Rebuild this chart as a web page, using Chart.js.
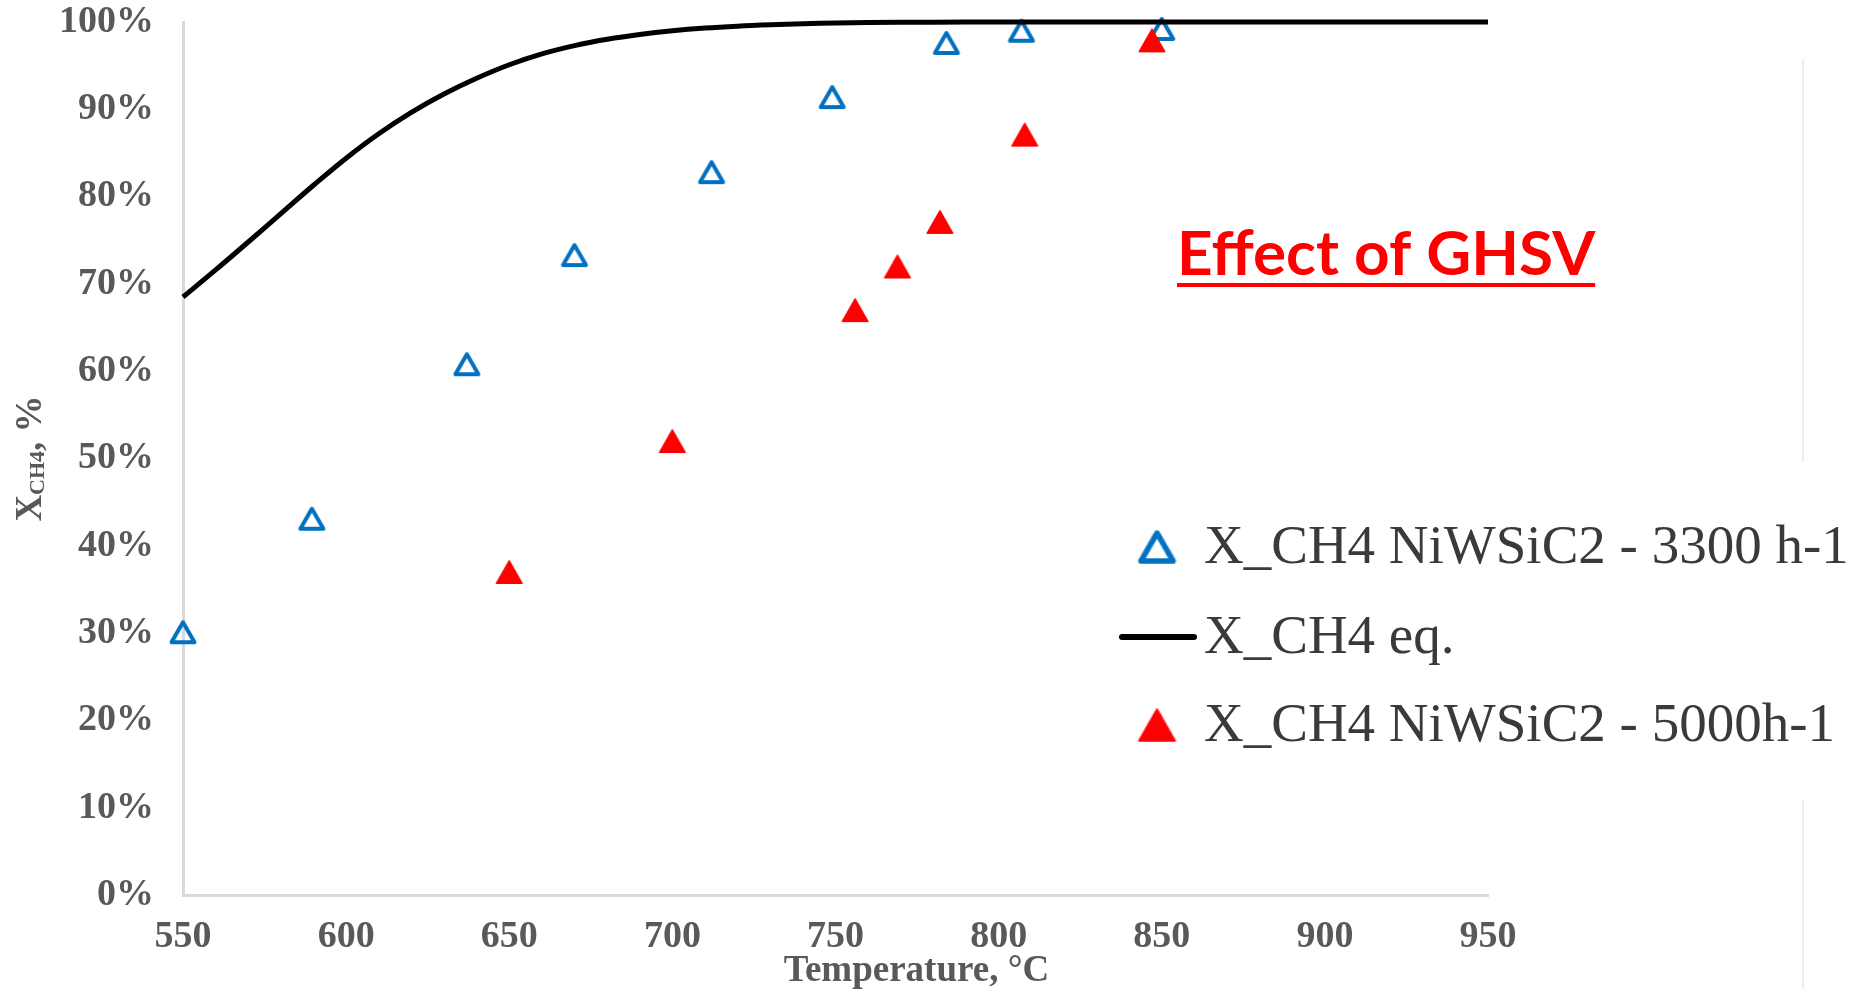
<!DOCTYPE html>
<html>
<head>
<meta charset="utf-8">
<script src="https://cdn.jsdelivr.net/npm/chart.js@4.4.1/dist/chart.umd.min.js"></script>
<style>
  html, body { margin: 0; padding: 0; background: #ffffff; }
  #wrap { position: relative; width: 1857px; height: 989px; }
</style>
</head>
<body>
<div id="wrap"><canvas id="chart" width="1857" height="989"></canvas></div>
<script>
// CH4 conversion over NiWSiC2, GHSV 3300 h-1
const temp3300 = [550, 589.5, 637, 670, 712, 749, 784, 807, 850];
const conv3300 = [30.1, 43.1, 60.8, 73.3, 82.8, 91.4, 97.6, 99.0, 99.2];

// CH4 conversion over NiWSiC2, GHSV 5000 h-1
const temp5000 = [650, 700, 756, 769, 782, 808, 847];
const conv5000 = [37.0, 52.0, 67.0, 72.0, 77.1, 87.1, 97.9];

// Equilibrium CH4 conversion
const tempEq = [550, 560, 570, 580, 590, 600, 610, 620, 630, 640, 650, 660, 670, 680, 690,
                700, 710, 720, 730, 740, 750, 760, 780, 800, 850, 900, 950];
const convEq = [68.5, 71.6, 74.8, 78.05, 81.3, 84.4, 87.2, 89.65, 91.75, 93.55, 95.1, 96.35, 97.3, 98.02, 98.57,
                98.99, 99.3, 99.52, 99.68, 99.8, 99.88, 99.93, 99.98, 100, 100, 100, 100];

// Series names
const seriesNames = ['X_CH4 NiWSiC2 - 3300 h-1', 'X_CH4 eq.', 'X_CH4 NiWSiC2 - 5000h-1'];

// Axis ticks
const xTickValues = [550, 600, 650, 700, 750, 800, 850, 900, 950];
const yTickValues = [0, 10, 20, 30, 40, 50, 60, 70, 80, 90, 100];

const BLUE = '#0070C0';
const RED = '#FF0000';
const TEXT_GRAY = '#595959';
const SERIF = '"Liberation Serif", "Times New Roman", serif';

// Triangle marker images (open blue, filled red), centred in their box
function openTriangle(color) {
  const c = document.createElement('canvas');
  c.width = 32; c.height = 32;
  const g = c.getContext('2d');
  g.strokeStyle = color;
  g.lineWidth = 4;
  g.lineJoin = 'round';
  g.beginPath();
  g.moveTo(16, 6);
  g.lineTo(27.5, 26);
  g.lineTo(4.5, 26);
  g.closePath();
  g.stroke();
  return c;
}
function filledTriangle(color) {
  const c = document.createElement('canvas');
  c.width = 32; c.height = 32;
  const g = c.getContext('2d');
  g.fillStyle = color;
  g.strokeStyle = color;
  g.lineWidth = 1.5;
  g.lineJoin = 'round';
  g.beginPath();
  g.moveTo(16, 4.8);
  g.lineTo(28.8, 27.3);
  g.lineTo(3.2, 27.3);
  g.closePath();
  g.fill();
  g.stroke();
  return c;
}
const markOpen = openTriangle(BLUE);
const markFilled = filledTriangle(RED);

const toPoints = (xs, ys) => xs.map((x, i) => ({ x: x, y: ys[i] }));

// Axis titles, legend and the caption drawn on top of the plot
const overlay = {
  id: 'overlay',
  afterDraw(chart) {
    const ctx = chart.ctx;
    const area = chart.chartArea;
    ctx.save();

    // faint frame edge on the right
    ctx.strokeStyle = '#ededed';
    ctx.lineWidth = 2;
    ctx.beginPath();
    ctx.moveTo(1803, 59); ctx.lineTo(1803, 462);
    ctx.moveTo(1803, 800); ctx.lineTo(1803, 989);
    ctx.stroke();

    // x axis title
    ctx.fillStyle = TEXT_GRAY;
    ctx.font = 'bold 37px ' + SERIF;
    ctx.textAlign = 'center';
    ctx.textBaseline = 'alphabetic';
    ctx.fillText('Temperature, °C', area.left + (area.right - area.left) * 0.562, 981);

    // y axis title with subscript, rotated
    ctx.translate(41, 0);
    ctx.rotate(-Math.PI / 2);
    const parts = [
      { t: 'X', font: 'bold 37px ' + SERIF, dy: 0 },
      { t: 'CH4', font: 'bold 22px ' + SERIF, dy: 3 },
      { t: ', %', font: 'bold 37px ' + SERIF, dy: 0 }
    ];
    let total = 0;
    parts.forEach(p => { ctx.font = p.font; p.w = ctx.measureText(p.t).width; total += p.w; });
    const midY = (area.top + area.bottom) / 2;
    let pos = -midY - total / 2;
    ctx.textAlign = 'left';
    parts.forEach(p => {
      ctx.font = p.font;
      ctx.fillText(p.t, pos, p.dy);
      pos += p.w;
    });
    ctx.setTransform(1, 0, 0, 1, 0, 0);

    // legend
    const ds = chart.data.datasets;
    const rows = [547, 637, 725];
    ctx.font = '55px ' + SERIF;
    ctx.textAlign = 'left';
    ctx.textBaseline = 'middle';
    ds.forEach((d, i) => {
      const y = rows[i];
      if (d.showLine) {
        ctx.strokeStyle = d.borderColor;
        ctx.lineWidth = 6;
        ctx.lineCap = 'round';
        ctx.beginPath();
        ctx.moveTo(1122, y);
        ctx.lineTo(1194, y);
        ctx.stroke();
      } else {
        const s = 1.4;
        ctx.drawImage(d.pointStyle, 1157 - 16 * s, y - 16 * s, 32 * s, 32 * s);
      }
      ctx.fillStyle = '#3a3a3a';
      ctx.fillText(d.label, 1204, y + 2);
    });

    // caption
    ctx.fillStyle = RED;
    ctx.font = 'bold 62px Lato, "Open Sans", sans-serif';
    ctx.textBaseline = 'alphabetic';
    const cap = 'Effect of GHSV';
    const cw = ctx.measureText(cap).width;
    ctx.fillText(cap, 1177, 275);
    ctx.fillRect(1177, 283, cw, 4);

    ctx.restore();
  }
};

new Chart(document.getElementById('chart'), {
  type: 'scatter',
  data: {
    datasets: [
      {
        label: seriesNames[0],
        data: toPoints(temp3300, conv3300),
        pointStyle: markOpen,
        pointRadius: 14,
        borderColor: BLUE,
        backgroundColor: BLUE,
        showLine: false,
        clip: false,
        order: 2
      },
      {
        label: seriesNames[1],
        type: 'line',
        data: toPoints(tempEq, convEq),
        borderColor: '#000000',
        backgroundColor: '#000000',
        borderWidth: 5,
        pointRadius: 0,
        showLine: true,
        tension: 0.4,
        fill: false,
        clip: false,
        order: 1
      },
      {
        label: seriesNames[2],
        data: toPoints(temp5000, conv5000),
        pointStyle: markFilled,
        pointRadius: 14,
        borderColor: RED,
        backgroundColor: RED,
        showLine: false,
        clip: false,
        order: 0
      }
    ]
  },
  options: {
    responsive: false,
    animation: false,
    events: [],
    layout: { padding: { left: 0, right: 369, top: 22, bottom: 0 } },
    plugins: {
      legend: { display: false },
      tooltip: { enabled: false },
      title: { display: false }
    },
    scales: {
      x: {
        type: 'linear',
        min: 550,
        max: 950,
        grid: { display: false, drawTicks: false },
        border: { display: true, color: '#d9d9d9', width: 3 },
        afterBuildTicks: s => { s.ticks = xTickValues.map(v => ({ value: v })); },
        afterFit: s => { s.height = 94; s.paddingLeft = 0; s.paddingRight = 0; },
        ticks: {
          autoSkip: false,
          maxRotation: 0,
          padding: 19,
          color: TEXT_GRAY,
          font: { family: SERIF, size: 38, weight: 'bold' }
        }
      },
      y: {
        type: 'linear',
        min: 0,
        max: 100,
        grid: { display: false, drawTicks: false },
        border: { display: true, color: '#d9d9d9', width: 3 },
        afterBuildTicks: s => { s.ticks = yTickValues.map(v => ({ value: v })); },
        afterFit: s => { s.width = 183; s.paddingTop = 0; s.paddingBottom = 0; },
        ticks: {
          autoSkip: false,
          padding: 29,
          color: TEXT_GRAY,
          font: { family: SERIF, size: 38, weight: 'bold' },
          callback: v => v + '%'
        }
      }
    }
  },
  plugins: [overlay]
});
</script>
</body>
</html>
